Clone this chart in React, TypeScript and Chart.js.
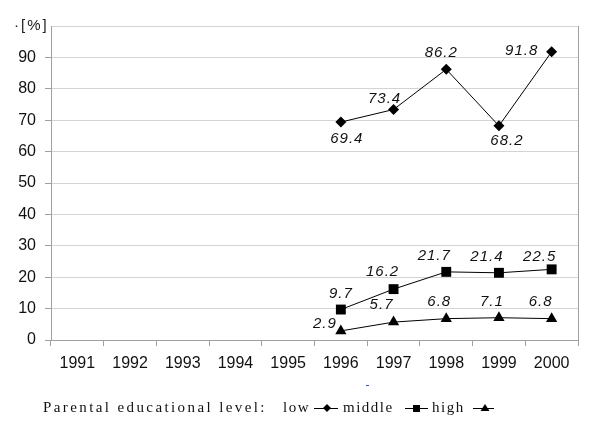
import React, { useEffect, useRef } from "react";
import { Chart, registerables } from "chart.js";

Chart.register(...registerables);

const years = ["1991", "1992", "1993", "1994", "1995", "1996", "1997", "1998", "1999", "2000"];
const lowValues = [null, null, null, null, null, 69.4, 73.4, 86.2, 68.2, 91.8];
const middleValues = [null, null, null, null, null, 9.7, 16.2, 21.7, 21.4, 22.5];
const highValues = [null, null, null, null, null, 2.9, 5.7, 6.8, 7.1, 6.8];
const yTicks = [0, 10, 20, 30, 40, 50, 60, 70, 80, 90, 100];

// label offsets (style): [dx, dy] relative to point
const lowLabelOffsets = [[0, 0], [0, 0], [0, 0], [0, 0], [0, 0], [6, 17], [-9, -11], [-5, -17], [8, 15], [-30, -1]];
const middleLabelOffsets = [[0, 0], [0, 0], [0, 0], [0, 0], [0, 0], [0, -16], [-11, -17], [-12, -16], [-12, -16], [-12, -13]];
const highLabelOffsets = [[0, 0], [0, 0], [0, 0], [0, 0], [0, 0], [-16, -7], [-12, -17], [-7, -17], [-7, -16], [-11, -17]];

const labelsPlugin = {
  id: "customDraw",
  afterDatasetsDraw(chart: any) {
    const ctx = chart.ctx;
    const area = chart.chartArea;
    ctx.save();
    // right border
    ctx.strokeStyle = "#a0a0a0";
    ctx.lineWidth = 1;
    ctx.beginPath();
    ctx.moveTo(Math.round(area.right) + 0.5, area.top);
    ctx.lineTo(Math.round(area.right) + 0.5, area.bottom);
    ctx.stroke();

    // data labels
    const offsets = [lowLabelOffsets, middleLabelOffsets, highLabelOffsets];
    ctx.font = "italic 15px 'Liberation Sans', Arial, sans-serif";
    (ctx as any).letterSpacing = "1px";
    ctx.fillStyle = "#111";
    ctx.textAlign = "center";
    ctx.textBaseline = "middle";
    chart.data.datasets.forEach((ds: any, di: number) => {
      const meta = chart.getDatasetMeta(di);
      meta.data.forEach((pt: any, i: number) => {
        const v = ds.data[i];
        if (v === null || v === undefined) return;
        const [dx, dy] = offsets[di][i];
        ctx.fillText(v.toFixed(1), pt.x + dx, pt.y + dy);
      });
    });

    // y-axis title
    ctx.font = "15px 'Liberation Sans', Arial, sans-serif";
    (ctx as any).letterSpacing = "2px";
    ctx.textAlign = "left";
    ctx.fillStyle = "#222";
    ctx.fillText("·[%]", 14, area.top);

    // legend
    const ly = 408;
    ctx.font = "15px 'Liberation Serif', 'Times New Roman', serif";
    ctx.fillStyle = "#111";
    ctx.textAlign = "left";
    (ctx as any).letterSpacing = "2.4px";
    ctx.fillText("Parental educational level:", 43, ly);
    (ctx as any).letterSpacing = "1.5px";
    ctx.fillText("low", 283, ly);
    ctx.fillText("middle", 343, ly);
    ctx.fillText("high", 432, ly);
    (ctx as any).letterSpacing = "0px";

    ctx.strokeStyle = "#000";
    ctx.fillStyle = "#000";
    ctx.lineWidth = 1;
    const lineSym = (x1: number, x2: number) => {
      ctx.beginPath();
      ctx.moveTo(x1, ly + 0.5);
      ctx.lineTo(x2, ly + 0.5);
      ctx.stroke();
    };
    lineSym(314, 338);
    ctx.beginPath();
    ctx.moveTo(327, ly - 4);
    ctx.lineTo(331, ly);
    ctx.lineTo(327, ly + 4);
    ctx.lineTo(323, ly);
    ctx.closePath();
    ctx.fill();
    lineSym(405, 428);
    ctx.fillRect(413, ly - 3, 7, 7);
    lineSym(473, 494);
    ctx.beginPath();
    ctx.moveTo(485, ly - 4);
    ctx.lineTo(489.5, ly + 3);
    ctx.lineTo(480.5, ly + 3);
    ctx.closePath();
    ctx.fill();

    // small blue mark
    ctx.fillStyle = "#3050d0";
    ctx.fillRect(366, 385, 3, 1);
    ctx.restore();
  },
};

export default function App() {
  const ref = useRef<HTMLCanvasElement>(null);
  useEffect(() => {
    if (!ref.current) return;
    const common = {
      borderColor: "#000",
      backgroundColor: "#000",
      borderWidth: 1,
      pointBorderWidth: 0,
      spanGaps: true,
    };
    const chart = new Chart(ref.current, {
      type: "line",
      data: {
        labels: years,
        datasets: [
          { ...common, label: "low", data: lowValues, pointStyle: "rectRot", pointRadius: 5.5 },
          { ...common, label: "middle", data: middleValues, pointStyle: "rect", pointRadius: 7 },
          { ...common, label: "high", data: highValues, pointStyle: "triangle", pointRadius: 6.5 },
        ],
      },
      options: {
        responsive: false,
        animation: false,
        events: [],
        layout: { padding: { left: 0, right: 22, top: 26, bottom: 56 } },
        plugins: { legend: { display: false }, tooltip: { enabled: false } },
        scales: {
          x: {
            offset: true,
            grid: { offset: true, drawOnChartArea: false, tickLength: 6, color: "#a0a0a0" },
            border: { color: "#a0a0a0" },
            ticks: { color: "#111", font: { size: 16, family: "'Liberation Sans', Arial, sans-serif" }, padding: 8, maxRotation: 0 },
            afterFit: (s: any) => { s.height = 40; },
          },
          y: {
            min: 0,
            max: 100,
            afterBuildTicks: (s: any) => { s.ticks = yTicks.map((v) => ({ value: v })); },
            grid: {
              color: "#d4d4d4",
              tickLength: 6,
              tickColor: (c: any) => (c.tick && c.tick.value === 100 ? "rgba(0,0,0,0)" : "#a0a0a0"),
            },
            border: { color: "#a0a0a0" },
            ticks: {
              color: "#111",
              font: { size: 16, family: "'Liberation Sans', Arial, sans-serif" },
              padding: 9,
              callback: (v: any) => (v === 100 ? "" : String(v)),
            },
            afterFit: (s: any) => { s.width = 51; },
          },
        },
      },
      plugins: [labelsPlugin],
    });
    return () => chart.destroy();
  }, []);
  return (
    <div style={{ position: "absolute", left: 0, top: 0, width: 600, height: 436, background: "#fff" }}>
      <canvas ref={ref} width={600} height={436} />
    </div>
  );
}
